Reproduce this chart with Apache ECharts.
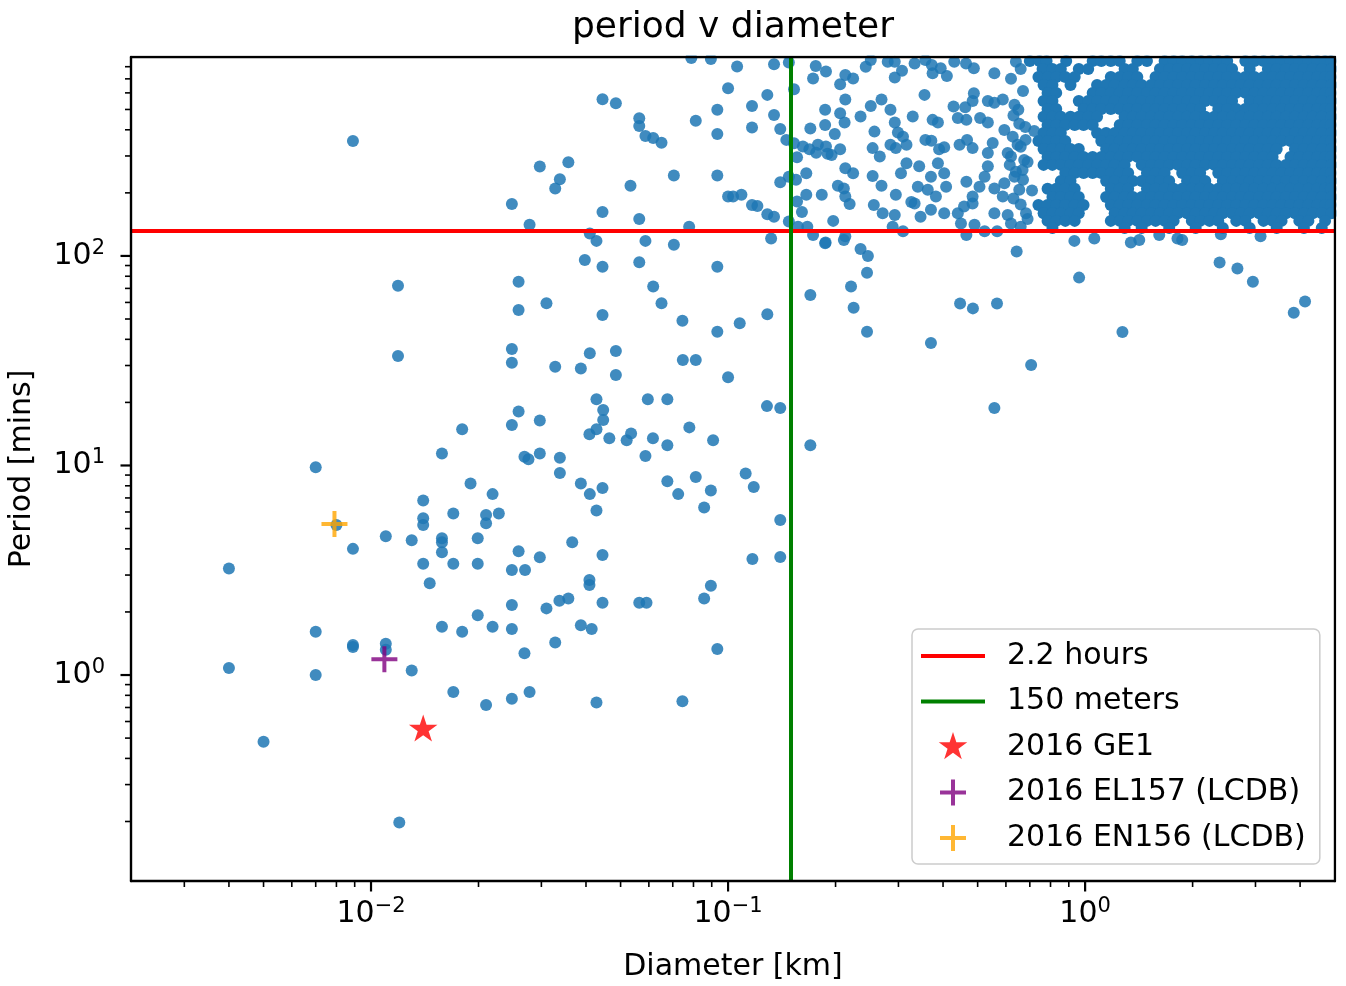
<!DOCTYPE html>
<html>
<head>
<meta charset="utf-8">
<title>period v diameter</title>
<script src="https://cdn.jsdelivr.net/npm/echarts@6/dist/echarts.min.js"></script>
<style>
  html, body { margin: 0; padding: 0; background: #ffffff; }
  #chart { width: 1346px; height: 986px; }
</style>
</head>
<body>
<div id="chart"></div>
<script>
// ---- axis ranges (diameter in km, rotation period in minutes) ----
const X_MIN = 0.002127, X_MAX = 5.01;
const Y_MIN = 0.104, Y_MAX = 890;

const xMajorTicks = [0.01, 0.1, 1];
const xMinorTicks = [0.003, 0.004, 0.005, 0.006, 0.007, 0.008, 0.009,
  0.02, 0.03, 0.04, 0.05, 0.06, 0.07, 0.08, 0.09,
  0.2, 0.3, 0.4, 0.5, 0.6, 0.7, 0.8, 0.9, 2, 3, 4];
const yMajorTicks = [1, 10, 100];
const yMinorTicks = [0.2, 0.3, 0.4, 0.5, 0.6, 0.7, 0.8, 0.9,
  2, 3, 4, 5, 6, 7, 8, 9, 20, 30, 40, 50, 60, 70, 80, 90,
  200, 300, 400, 500, 600, 700, 800];

// ---- reference limits ----
const periodLimit = 132;     // 2.2 hours, in minutes
const diameterLimit = 0.15;  // 150 meters, in km

// ---- highlighted objects [diameter km, period min] ----
const ge1 = [[0.0140, 0.55]];
const el157 = [[0.0109, 1.19]];
const en156 = [[0.0079, 5.25]];

// ---- light-curve database: small bodies (D < ~0.1 km) ----
const lcdbSmall = [
  [0.0089, 354], [0.0119, 72], [0.0040, 3.22], [0.0119, 33.3], [0.0070, 9.8], [0.0080, 5.2],
  [0.0089, 4.0], [0.0110, 4.6], [0.0130, 4.4], [0.0140, 6.8], [0.0140, 5.6], [0.0140, 5.2],
  [0.0140, 3.4], [0.0146, 2.74], [0.0040, 1.08], [0.0070, 1.61], [0.0070, 1.0], [0.0089, 1.39],
  [0.0089, 1.36], [0.0110, 1.41], [0.0110, 1.32], [0.0130, 1.05], [0.0050, 0.48], [0.0120, 0.198],
  [0.0248, 36.0], [0.0248, 30.9], [0.0328, 29.6], [0.0387, 29.0], [0.0410, 34.3], [0.0485, 35.2],
  [0.0485, 27.0], [0.0747, 31.9], [0.0812, 31.9], [0.100, 26.4], [0.0428, 20.7], [0.0447, 18.4],
  [0.0447, 16.5], [0.0428, 14.9], [0.0409, 14.1], [0.0465, 13.5], [0.0520, 13.2], [0.0535, 14.2],
  [0.0596, 20.7], [0.0676, 20.7], [0.0616, 13.5], [0.0676, 12.5], [0.0587, 11.1], [0.0779, 15.2],
  [0.0908, 13.2], [0.0259, 18.1], [0.0248, 15.6], [0.0297, 16.4], [0.0180, 14.9], [0.0158, 11.4],
  [0.0269, 11.0], [0.0276, 10.7], [0.0297, 11.4], [0.0338, 10.9], [0.0338, 9.2], [0.0387, 8.2],
  [0.0410, 7.3], [0.0445, 7.8], [0.0428, 6.1], [0.0676, 8.4], [0.0812, 8.8], [0.0725, 7.3],
  [0.0895, 7.6], [0.0857, 6.3], [0.0190, 8.2], [0.0219, 7.3], [0.0170, 5.9], [0.0210, 5.8],
  [0.0210, 5.3], [0.0228, 5.9], [0.0158, 4.5], [0.0158, 4.3], [0.0158, 3.85], [0.0199, 4.5],
  [0.0170, 3.4], [0.0199, 3.4], [0.0259, 3.9], [0.0297, 3.65], [0.0248, 3.17], [0.0270, 3.17],
  [0.0366, 4.3], [0.0445, 3.74], [0.0409, 2.84], [0.0409, 2.69], [0.0895, 2.67], [0.0857, 2.32],
  [0.0248, 2.16], [0.0310, 2.08], [0.0337, 2.26], [0.0357, 2.32], [0.0445, 2.21], [0.0564, 2.21],
  [0.0591, 2.21], [0.0199, 1.93], [0.0387, 1.73], [0.0158, 1.70], [0.0180, 1.61], [0.0219, 1.70],
  [0.0248, 1.66], [0.0415, 1.66], [0.0328, 1.43], [0.0269, 1.27], [0.0933, 1.33], [0.0170, 0.83],
  [0.0210, 0.72], [0.0248, 0.77], [0.0278, 0.83], [0.0428, 0.74], [0.0745, 0.75],
  [0.0789, 880], [0.0895, 870], [0.100, 632], [0.0445, 560], [0.0485, 536], [0.0564, 454],
  [0.0564, 417], [0.0587, 374], [0.0617, 365], [0.0651, 347], [0.0812, 442], [0.0933, 498],
  [0.0933, 382], [0.0933, 242], [0.100, 192], [0.0705, 242], [0.0297, 267], [0.0357, 280],
  [0.0338, 232], [0.0328, 210], [0.0533, 216], [0.0248, 177], [0.0445, 162], [0.0564, 150],
  [0.0278, 141], [0.0410, 128], [0.0428, 118], [0.0587, 118], [0.0705, 113], [0.0778, 138],
  [0.0397, 95.7], [0.0445, 88.9], [0.0564, 93.3], [0.0933, 88.9], [0.0259, 75.4], [0.0259, 55.2],
  [0.0310, 59.5], [0.0445, 52.3], [0.0617, 71.4], [0.0651, 59.5], [0.0745, 49.1], [0.0933, 43.5]
];

// ---- light-curve database: mid-size bodies (~0.1 - 0.7 km) and stragglers ----
const lcdbMid = [
  [0.106, 801], [0.1345, 822], [0.148, 837], [0.1288, 587], [0.153, 625], [0.1167, 520],
  [0.1345, 471], [0.1167, 410], [0.140, 403], [0.1456, 358], [0.153, 345], [0.156, 296],
  [0.140, 225], [0.148, 239], [0.155, 231], [0.1656, 248], [0.1033, 192], [0.109, 196],
  [0.1167, 175], [0.1208, 173], [0.1288, 158], [0.1345, 154], [0.148, 146], [0.156, 182],
  [0.161, 162], [0.1656, 196], [0.183, 196], [0.132, 121], [0.157, 138], [0.1667, 138],
  [0.173, 126], [0.1876, 116], [0.197, 147], [0.213, 124], [0.235, 108], [0.2464, 100],
  [0.245, 83.2], [0.221, 71.4], [0.170, 65.1], [0.2247, 56.6], [0.1288, 52.7], [0.1078, 47.7],
  [0.245, 43.5], [0.370, 38.4], [0.4465, 59.3], [0.485, 56.2], [0.5665, 59.3], [0.643, 105],
  [0.706, 30.2], [0.962, 78.8], [1.272, 43.3], [0.557, 18.8], [2.38, 93.0], [2.67, 87.0],
  [2.95, 75.3], [3.84, 53.5], [4.13, 60.6], [0.1285, 19.2], [0.140, 18.8], [0.170, 12.5],
  [0.112, 9.15], [0.118, 7.9], [0.140, 5.5], [0.117, 3.58], [0.140, 3.66],
  [0.933, 118], [1.061, 121], [1.343, 116], [1.418, 119], [1.613, 126], [1.814, 121],
  [1.87, 119], [2.40, 127], [3.10, 124], [0.187, 115], [0.211, 119],
  [0.176, 807], [0.188, 758], [0.173, 703], [0.206, 660], [0.213, 731], [0.224, 703],
  [0.213, 558], [0.187, 498], [0.206, 480], [0.212, 433], [0.187, 422], [0.170, 406],
  [0.199, 382], [0.162, 333], [0.169, 323], [0.1785, 339], [0.188, 333], [0.19, 307],
  [0.195, 303], [0.206, 323], [0.1765, 311], [0.213, 262], [0.224, 248], [0.203, 216],
  [0.211, 210], [0.213, 192], [0.219, 177], [0.235, 463], [0.243, 800], [0.251, 862],
  [0.28, 845], [0.293, 845], [0.307, 765], [0.293, 711], [0.251, 520], [0.269, 558],
  [0.285, 498], [0.257, 392], [0.293, 433], [0.309, 371], [0.299, 388], [0.254, 327],
  [0.266, 298], [0.285, 339], [0.295, 327], [0.316, 339], [0.329, 463], [0.355, 587],
  [0.254, 241], [0.269, 216], [0.295, 196], [0.305, 248], [0.316, 277], [0.256, 175],
  [0.271, 160], [0.293, 157], [0.289, 138], [0.309, 131], [0.326, 181], [0.34, 214],
  [0.343, 268], [0.333, 178], [0.357, 358], [0.371, 355], [0.39, 323], [0.403, 330],
  [0.374, 446], [0.387, 433], [0.37, 239], [0.387, 277], [0.403, 248], [0.3625, 207],
  [0.382, 192], [0.408, 214], [0.346, 154], [0.37, 166], [0.403, 160], [0.333, 829],
  [0.357, 862], [0.372, 816], [0.374, 745], [0.394, 787], [0.41, 723], [0.43, 845],
  [0.464, 829], [0.488, 787], [0.428, 516], [0.4615, 512], [0.488, 597], [0.484, 549],
  [0.44, 455], [0.465, 446], [0.508, 455], [0.534, 433], [0.445, 339], [0.467, 358],
  [0.484, 327], [0.534, 549], [0.557, 539], [0.588, 558], [0.634, 526], [0.557, 745],
  [0.64, 845], [0.551, 346], [0.534, 310], [0.594, 399], [0.627, 371], [0.654, 427],
  [0.465, 226], [0.484, 192], [0.506, 214], [0.534, 268], [0.523, 239], [0.557, 210],
  [0.594, 222], [0.588, 192], [0.634, 239], [0.44, 160], [0.458, 172], [0.484, 178],
  [0.449, 143], [0.49, 141], [0.523, 131], [0.557, 160], [0.607, 157], [0.683, 160],
  [0.465, 126], [0.567, 131], [0.607, 310], [0.675, 287], [0.647, 339], [0.668, 257],
  [0.615, 272], [0.654, 207], [0.681, 358],
  [0.66, 780], [0.62, 700], [0.67, 612], [0.65, 498], [0.63, 468], [0.68, 412],
  [0.66, 332], [0.62, 298], [0.69, 281], [0.64, 252], [0.67, 231], [0.63, 188],
  [0.66, 176], [0.69, 150], [0.62, 143], [0.66, 138], [0.72, 395], [0.71, 205]
];

// ---- light-curve database: the crowded large-body block (D > 0.7 km) ----
// one period per band, with the diameters measured along that band
const lcdbLargePeriods = [852, 781, 715, 655, 600, 549, 503, 461, 422, 386, 354,
  324, 297, 272, 249, 228, 209, 191, 175, 160, 147, 136];
const lcdbLargeDiameters = [
  [0.70, 0.745, 0.78, 0.885, 1.05, 1.11, 1.18, 1.25, 1.40, 1.49, 1.67, 1.77, 1.87, 1.99, 2.11, 2.23, 2.36, 2.50, 2.81, 2.98, 3.16, 3.35, 3.54, 3.76, 3.98, 4.22, 4.47, 4.70, 4.88],
  [0.76, 0.81, 0.855, 0.96, 1.02, 1.29, 1.36, 1.62, 1.72, 1.82, 1.93, 2.04, 2.17, 2.30, 2.43, 2.58, 2.89, 3.25, 3.44, 3.65, 3.87, 4.10, 4.34, 4.60, 4.90],
  [0.74, 0.786, 0.83, 0.88, 0.935, 1.18, 1.25, 1.32, 1.40, 1.575, 1.67, 1.77, 1.87, 1.99, 2.10, 2.23, 2.36, 2.50, 2.65, 2.81, 2.98, 3.16, 3.35, 3.55, 3.76, 3.98, 4.22, 4.47, 4.70, 4.88],
  [0.765, 0.81, 0.91, 1.08, 1.145, 1.21, 1.29, 1.36, 1.44, 1.53, 1.62, 1.72, 1.82, 1.93, 2.04, 2.17, 2.30, 2.43, 2.58, 2.73, 2.89, 3.07, 3.25, 3.44, 3.65, 3.87, 4.10, 4.34, 4.60, 4.90],
  [0.785, 0.83, 1.05, 1.11, 1.18, 1.25, 1.32, 1.40, 1.49, 1.575, 1.67, 1.77, 1.87, 1.99, 2.10, 2.23, 2.36, 2.50, 2.65, 2.81, 2.98, 3.16, 3.35, 3.55, 3.76, 3.98, 4.22, 4.47, 4.70, 4.88],
  [0.765, 0.81, 0.96, 1.02, 1.08, 1.145, 1.21, 1.29, 1.36, 1.44, 1.53, 1.62, 1.72, 1.82, 1.93, 2.04, 2.17, 2.30, 2.43, 2.58, 2.89, 3.07, 3.25, 3.44, 3.65, 3.87, 4.10, 4.34, 4.60, 4.90],
  [0.785, 0.83, 0.99, 1.05, 1.11, 1.18, 1.25, 1.32, 1.40, 1.49, 1.575, 1.67, 1.77, 1.87, 1.99, 2.10, 2.36, 2.50, 2.65, 2.81, 2.98, 3.16, 3.35, 3.55, 3.76, 3.98, 4.22, 4.47, 4.70, 4.88],
  [0.765, 0.81, 0.855, 0.91, 0.96, 1.02, 1.08, 1.29, 1.36, 1.44, 1.53, 1.62, 1.72, 1.82, 1.93, 2.04, 2.17, 2.30, 2.43, 2.58, 2.73, 2.89, 3.07, 3.25, 3.44, 3.65, 3.87, 4.10, 4.34, 4.60, 4.90],
  [0.785, 0.83, 0.88, 0.935, 0.99, 1.05, 1.25, 1.32, 1.40, 1.49, 1.575, 1.67, 1.77, 1.87, 1.99, 2.10, 2.23, 2.36, 2.50, 2.65, 2.81, 2.98, 3.16, 3.35, 3.55, 3.76, 3.98, 4.22, 4.47, 4.70, 4.88],
  [0.765, 0.81, 0.855, 1.08, 1.145, 1.21, 1.29, 1.36, 1.44, 1.53, 1.62, 1.72, 1.82, 1.93, 2.04, 2.17, 2.30, 2.43, 2.58, 2.73, 2.89, 3.07, 3.25, 3.44, 3.65, 3.87, 4.10, 4.34, 4.60, 4.90],
  [0.74, 0.785, 0.83, 0.88, 1.11, 1.18, 1.25, 1.32, 1.40, 1.49, 1.575, 1.67, 1.77, 1.87, 1.99, 2.10, 2.23, 2.36, 2.50, 2.65, 2.81, 2.98, 3.16, 3.35, 3.55, 3.76, 3.98, 4.22, 4.47, 4.70, 4.88],
  [0.765, 0.81, 0.855, 0.91, 0.96, 1.145, 1.21, 1.29, 1.36, 1.44, 1.53, 1.62, 1.72, 1.82, 1.93, 2.04, 2.17, 2.30, 2.43, 2.58, 2.73, 2.89, 3.07, 3.25, 3.44, 3.87, 4.10, 4.34, 4.60, 4.90],
  [0.785, 0.83, 0.88, 0.935, 0.99, 1.05, 1.11, 1.18, 1.25, 1.32, 1.40, 1.49, 1.575, 1.67, 1.77, 1.87, 1.99, 2.10, 2.23, 2.36, 2.50, 2.65, 2.81, 2.98, 3.16, 3.35, 3.76, 3.98, 4.22, 4.47, 4.70, 4.88],
  [0.765, 0.81, 0.855, 0.91, 0.96, 1.02, 1.08, 1.145, 1.21, 1.29, 1.44, 1.53, 1.62, 1.72, 1.82, 1.93, 2.04, 2.17, 2.30, 2.43, 2.58, 2.73, 2.89, 3.07, 3.25, 3.44, 3.65, 3.87, 4.10, 4.34, 4.60, 4.90],
  [0.88, 0.935, 0.99, 1.05, 1.11, 1.18, 1.25, 1.32, 1.49, 1.575, 1.67, 1.87, 1.99, 2.10, 2.36, 2.50, 2.65, 2.81, 2.98, 3.16, 3.35, 3.55, 3.76, 3.98, 4.22, 4.47, 4.70, 4.88],
  [0.855, 0.91, 1.145, 1.21, 1.29, 1.36, 1.44, 1.53, 1.62, 1.72, 1.93, 2.04, 2.17, 2.43, 2.58, 2.73, 2.89, 3.07, 3.25, 3.44, 3.65, 3.87, 4.10, 4.34, 4.60, 4.90],
  [0.785, 0.83, 0.88, 0.935, 1.18, 1.25, 1.32, 1.49, 1.575, 1.67, 1.77, 1.87, 1.99, 2.10, 2.23, 2.36, 2.50, 2.65, 2.81, 2.98, 3.16, 3.35, 3.55, 3.76, 3.98, 4.22, 4.47, 4.70, 4.88],
  [0.81, 0.855, 0.91, 0.96, 1.145, 1.21, 1.29, 1.36, 1.44, 1.53, 1.62, 1.72, 1.82, 1.93, 2.04, 2.17, 2.30, 2.43, 2.58, 2.73, 2.89, 3.07, 3.25, 3.44, 3.65, 3.87, 4.10, 4.34, 4.60, 4.90],
  [0.74, 0.785, 0.83, 0.88, 0.935, 0.99, 1.18, 1.25, 1.32, 1.40, 1.49, 1.575, 1.67, 1.77, 1.87, 1.99, 2.10, 2.23, 2.36, 2.50, 2.65, 2.81, 2.98, 3.16, 3.35, 3.55, 3.76, 3.98, 4.22, 4.47, 4.70, 4.88],
  [0.765, 0.81, 0.855, 0.91, 0.96, 1.21, 1.29, 1.36, 1.44, 1.53, 1.62, 1.72, 1.82, 1.93, 2.04, 2.17, 2.30, 2.43, 2.58, 2.73, 2.89, 3.07, 3.25, 3.44, 3.65, 3.87, 4.10, 4.34, 4.60, 4.90],
  [0.785, 0.83, 0.88, 0.935, 1.18, 1.25, 1.32, 1.40, 1.49, 1.575, 1.67, 1.77, 1.99, 2.10, 2.23, 2.36, 2.65, 2.81, 3.16, 3.35, 3.55, 3.98, 4.22, 4.70],
  [0.81, 1.29, 1.44, 1.72, 2.04, 2.43, 2.89, 3.44, 4.10, 4.60]
];

// ---- assemble the scatter tables ----
const lcdbLarge = [];
lcdbLargePeriods.forEach(function (p, i) {
  lcdbLargeDiameters[i].forEach(function (d) { lcdbLarge.push([d, p]); });
});
const lcdbSparse = lcdbSmall.concat(lcdbMid);

// tick tables for the custom tick painter: [value, other-axis minimum, isMajor]
const xTickRows = xMajorTicks.map(v => [v, Y_MIN, 1]).concat(xMinorTicks.map(v => [v, Y_MIN, 0]));
const yTickRows = yMajorTicks.map(v => [X_MIN, v, 1]).concat(yMinorTicks.map(v => [X_MIN, v, 0]));

// ---- styling ----
const FONT = 'DejaVu Sans';
const BLUE = '#1f77b4';

// marker shapes
const STAR_SYMBOL = 'path://M0,0M100,100M50,0L61.23,34.55L97.55,34.55L68.17,55.9L79.39,90.45L50,69.1L20.61,90.45L31.83,55.9L2.45,34.55L38.77,34.55Z';
const PLUS_SYMBOL = 'path://M0,0M26,26M11,0H15V11H26V15H15V26H11V15H0V11H11Z';
// legend handles drawn inside an 81 x 30 box (handle + gap before text)
const LINE_ICON = 'path://M0,0M81,30M0,13H64V17H0Z';
const STAR_ICON = 'path://M0,0M81,30M32,0L35.37,10.36L46.27,10.36L37.45,16.77L40.82,27.14L32,20.73L23.18,27.14L26.55,16.77L17.73,10.36L28.63,10.36Z';
const PLUS_ICON = 'path://M0,0M81,30M30,2H34V13H45V17H34V28H30V17H19V13H30Z';

function powerLabel(v) {
  const e = Math.round(Math.log10(v));
  return '{b|10}{s|' + (e < 0 ? '\u2212' + (-e) : String(e)) + '}';
}
const powerRich = {
  b: { fontFamily: FONT, fontSize: 30, lineHeight: 34, color: '#000' },
  s: { fontFamily: FONT, fontSize: 21, lineHeight: 22, padding: [0, 0, 15, 0], color: '#000' }
};

function tickPainter(horizontal) {
  return function (params, api) {
    const pt = api.coord([api.value(0), api.value(1)]);
    const major = api.value(2) === 1;
    const len = major ? 10.5 : 6;
    const shape = horizontal
      ? { x1: pt[0], y1: pt[1], x2: pt[0], y2: pt[1] + len }
      : { x1: pt[0], y1: pt[1], x2: pt[0] - len, y2: pt[1] };
    return { type: 'line', shape: shape, style: { stroke: '#000', lineWidth: major ? 2.2 : 1.6 } };
  };
}

const frameLine = { show: true, onZero: false, lineStyle: { color: '#000', width: 2.4 } };
const dotStyle = { color: BLUE, opacity: 0.85 };

const option = {
  animation: false,
  backgroundColor: '#ffffff',
  title: {
    text: 'period v diameter',
    left: 572, top: 8, padding: 0, z: 200,
    textStyle: { fontFamily: FONT, fontSize: 36, fontWeight: 'normal', color: '#000', lineHeight: 40 }
  },
  grid: {
    left: 131, top: 57, width: 1204, height: 824, show: false,
    containLabel: false, outerBoundsMode: 'none'
  },
  xAxis: [
    {
      type: 'log', logBase: 10, min: X_MIN, max: X_MAX, position: 'bottom', z: 10,
      axisLine: frameLine, axisTick: { show: false }, splitLine: { show: false },
      axisLabel: { show: true, margin: 16, color: '#000', formatter: powerLabel, rich: powerRich,
        showMinLabel: false, showMaxLabel: false },
      name: 'Diameter [km]', nameLocation: 'middle', nameGap: 69,
      nameTextStyle: { fontFamily: FONT, fontSize: 30, color: '#000', lineHeight: 34 }
    },
    {
      type: 'log', logBase: 10, min: X_MIN, max: X_MAX, position: 'top', z: 10,
      axisLine: frameLine, axisTick: { show: false }, axisLabel: { show: false }, splitLine: { show: false }
    }
  ],
  yAxis: [
    {
      type: 'log', logBase: 10, min: Y_MIN, max: Y_MAX, position: 'left', z: 10,
      axisLine: frameLine, axisTick: { show: false }, splitLine: { show: false },
      axisLabel: { show: true, margin: 26, color: '#000', formatter: powerLabel, rich: powerRich,
        showMinLabel: false, showMaxLabel: false },
      name: 'Period [mins]', nameLocation: 'middle', nameGap: 92, nameRotate: 90,
      nameTextStyle: { fontFamily: FONT, fontSize: 30, color: '#000', lineHeight: 34 }
    },
    {
      type: 'log', logBase: 10, min: Y_MIN, max: Y_MAX, position: 'right', z: 10,
      axisLine: frameLine, axisTick: { show: false }, axisLabel: { show: false }, splitLine: { show: false }
    }
  ],
  legend: {
    orient: 'vertical', left: 912, top: 629, padding: [12, 14, 11, 9],
    itemGap: 15.5, itemWidth: 81, itemHeight: 30, symbolKeepAspect: true,
    selectedMode: false, z: 20,
    backgroundColor: 'rgba(255,255,255,0.8)', borderColor: '#cccccc', borderWidth: 1.5, borderRadius: 6,
    textStyle: { fontFamily: FONT, fontSize: 30, color: '#000', lineHeight: 30 },
    itemStyle: { borderWidth: 0 },
    data: [
      { name: '2.2 hours', icon: LINE_ICON, itemStyle: { color: '#ff0000', borderWidth: 0 } },
      { name: '150 meters', icon: LINE_ICON, itemStyle: { color: '#008000', borderWidth: 0 } },
      { name: '2016 GE1', icon: STAR_ICON, itemStyle: { color: '#ff0000', borderWidth: 0 } },
      { name: '2016 EL157 (LCDB)', icon: PLUS_ICON, itemStyle: { color: '#800080', borderWidth: 0 } },
      { name: '2016 EN156 (LCDB)', icon: PLUS_ICON, itemStyle: { color: '#ffa500', borderWidth: 0 } }
    ]
  },
  graphic: [
    // trim marker overflow beyond the top and right spines
    { type: 'rect', z: 100, silent: true, shape: { x: 120, y: 44, width: 1226, height: 11.6 }, style: { fill: '#ffffff' } },
    { type: 'rect', z: 100, silent: true, shape: { x: 1336.4, y: 44, width: 10, height: 840 }, style: { fill: '#ffffff' } }
  ],
  series: [
    {
      name: 'LCDB', type: 'scatter', data: lcdbSparse, xAxisIndex: 0, yAxisIndex: 0,
      symbol: 'circle', symbolSize: 12, z: 2, silent: true, itemStyle: dotStyle
    },
    {
      // the crowded block overlaps so heavily that it reads as solid colour
      name: 'LCDB', type: 'scatter', data: lcdbLarge, xAxisIndex: 0, yAxisIndex: 0,
      symbol: 'circle', symbolSize: 12, z: 2, silent: true, itemStyle: { color: BLUE, opacity: 1 }
    },
    {
      name: '2.2 hours', type: 'line', data: [], xAxisIndex: 0, yAxisIndex: 0, z: 3,
      itemStyle: { color: '#ff0000' }, lineStyle: { color: '#ff0000' },
      markLine: {
        silent: true, symbol: ['none', 'none'], animation: false, label: { show: false },
        lineStyle: { color: '#ff0000', width: 4, type: 'solid' },
        data: [{ yAxis: periodLimit }]
      }
    },
    {
      name: '150 meters', type: 'line', data: [], xAxisIndex: 0, yAxisIndex: 0, z: 3,
      itemStyle: { color: '#008000' }, lineStyle: { color: '#008000' },
      markLine: {
        silent: true, symbol: ['none', 'none'], animation: false, label: { show: false },
        lineStyle: { color: '#008000', width: 4, type: 'solid' },
        data: [{ xAxis: diameterLimit }]
      }
    },
    {
      name: '2016 GE1', type: 'scatter', data: ge1, symbol: STAR_SYMBOL, symbolSize: 30,
      symbolKeepAspect: true, z: 6, silent: true, itemStyle: { color: '#ff0000' }
    },
    {
      name: '2016 EL157 (LCDB)', type: 'scatter', data: el157, symbol: PLUS_SYMBOL, symbolSize: 26,
      symbolKeepAspect: true, z: 6, silent: true, itemStyle: { color: '#800080' }
    },
    {
      name: '2016 EN156 (LCDB)', type: 'scatter', data: en156, symbol: PLUS_SYMBOL, symbolSize: 26,
      symbolKeepAspect: true, z: 6, silent: true, itemStyle: { color: '#ffa500' }
    },
    {
      name: 'x ticks', type: 'custom', data: xTickRows, renderItem: tickPainter(true),
      encode: { x: 0, y: 1 }, clip: false, silent: true, z: 10
    },
    {
      name: 'y ticks', type: 'custom', data: yTickRows, renderItem: tickPainter(false),
      encode: { x: 0, y: 1 }, clip: false, silent: true, z: 10
    }
  ]
};

const chart = echarts.init(document.getElementById('chart'), null, { renderer: 'canvas' });
chart.setOption(option);
</script>
</body>
</html>
